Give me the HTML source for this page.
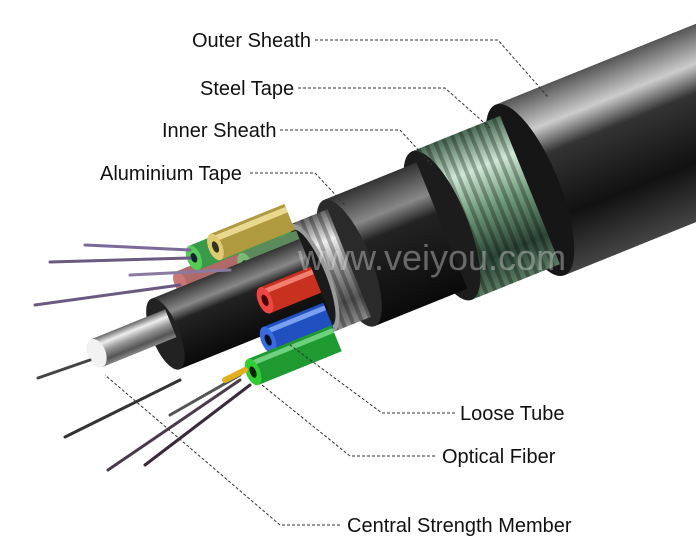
<!DOCTYPE html>
<html><head><meta charset="utf-8"><style>
html,body{margin:0;padding:0;background:#fff;}
svg{display:block;}
text{font-family:"Liberation Sans",sans-serif;font-size:20px;fill:#111;}
</style></head><body>
<svg width="696" height="559" viewBox="0 0 696 559" xmlns="http://www.w3.org/2000/svg">
<defs>
<linearGradient id="gOut" x1="0" y1="0" x2="0" y2="1">
<stop offset="0" stop-color="#555"/><stop offset="0.2" stop-color="#ccc"/><stop offset="0.35" stop-color="#333"/><stop offset="0.7" stop-color="#111"/><stop offset="1" stop-color="#444"/></linearGradient>
<linearGradient id="gGreen" x1="0" y1="0" x2="0" y2="1">
<stop offset="0" stop-color="#4a6a55"/><stop offset="0.25" stop-color="#cfe8d5"/><stop offset="0.5" stop-color="#6f9a7a"/><stop offset="0.8" stop-color="#2c4434"/><stop offset="1" stop-color="#5a7a62"/></linearGradient>
<linearGradient id="gBlack" x1="0" y1="0" x2="0" y2="1">
<stop offset="0" stop-color="#333"/><stop offset="0.25" stop-color="#888"/><stop offset="0.4" stop-color="#222"/><stop offset="1" stop-color="#0a0a0a"/></linearGradient>
<linearGradient id="gAl" x1="0" y1="0" x2="0" y2="1">
<stop offset="0" stop-color="#666"/><stop offset="0.25" stop-color="#eee"/><stop offset="0.5" stop-color="#999"/><stop offset="0.8" stop-color="#555"/><stop offset="1" stop-color="#888"/></linearGradient>
<pattern id="rings" width="9" height="10" patternUnits="userSpaceOnUse"><rect width="4" height="10" fill="rgba(0,0,0,0.28)"/></pattern>
</defs>

<g transform="translate(530,190) rotate(-22)">
  <rect x="0" y="-92" width="280" height="184" fill="url(#gOut)"/>
  <ellipse cx="0" cy="0" rx="30" ry="92" fill="#161616"/>
  <rect x="-95" y="-80" width="95" height="160" fill="url(#gGreen)"/>
  <rect x="-95" y="-80" width="95" height="160" fill="url(#rings)"/>
  <ellipse cx="-95" cy="0" rx="26" ry="80" fill="#1c1c1c"/>
  <rect x="-195" y="-68" width="100" height="136" fill="url(#gBlack)"/>
  <ellipse cx="-195" cy="0" rx="22" ry="68" fill="#2a2a2a"/>
  <rect x="-235" y="-58" width="40" height="116" fill="url(#gAl)"/>
  <rect x="-235" y="-58" width="40" height="116" fill="url(#rings)"/>
  <ellipse cx="-235" cy="0" rx="18" ry="58" fill="#9a9a9a"/>
  <ellipse cx="-235" cy="0" rx="14" ry="52" fill="#1a1a1a"/>

  <rect x="-359" y="-57" width="110" height="24" fill="#b06a6a"/><ellipse cx="-359" cy="-45" rx="6" ry="12" fill="#c77"/>
  <rect x="-337" y="-76" width="100" height="26" fill="#3a9a4a"/><ellipse cx="-337" cy="-63" rx="7" ry="13" fill="#5c5"/><ellipse cx="-337" cy="-63" rx="3" ry="5" fill="#123"/>
  <rect x="-313" y="-79" width="80" height="28" fill="#b09a40"/><rect x="-313" y="-76" width="80" height="6" fill="#e8d890"/><ellipse cx="-313" cy="-65" rx="7" ry="14" fill="#e0cc70"/><ellipse cx="-313" cy="-65" rx="3" ry="6" fill="#332"/>
  <rect x="-292" y="-50" width="60" height="26" fill="#5d8a5d"/><ellipse cx="-292" cy="-37" rx="7" ry="13" fill="#7b7"/><ellipse cx="-292" cy="-37" rx="3" ry="5" fill="#222"/>
  <rect x="-392" y="-41" width="160" height="76" fill="url(#gBlack)"/>
  <ellipse cx="-392" cy="-3" rx="14" ry="38" fill="#222"/>
  <rect x="-463" y="-26" width="80" height="30" fill="url(#gAl)"/>
  <ellipse cx="-463" cy="-11" rx="9" ry="15" fill="#f2f2f2"/>
  <rect x="-287" y="-11" width="55" height="28" fill="#c83020"/><rect x="-287" y="-8" width="55" height="5" fill="#f08070"/><ellipse cx="-287" cy="3" rx="7" ry="14" fill="#e44"/><ellipse cx="-287" cy="3" rx="3" ry="6" fill="#400"/>
  <rect x="-299" y="27" width="65" height="28" fill="#2050c0"/><rect x="-299" y="30" width="65" height="5" fill="#7aa0f0"/><ellipse cx="-299" cy="41" rx="7" ry="14" fill="#3a6ae0"/><ellipse cx="-299" cy="41" rx="3" ry="6" fill="#012"/>
  <rect x="-325" y="51" width="90" height="28" fill="#1e9a30"/><rect x="-325" y="54" width="90" height="5" fill="#70d080"/><ellipse cx="-325" cy="65" rx="7" ry="14" fill="#3c3"/><ellipse cx="-325" cy="65" rx="3" ry="6" fill="#020"/>
</g>

<g stroke-linecap="round" fill="none">
<path d="M85,245 L190,250" stroke="#7a6a9a" stroke-width="3"/>
<path d="M50,262 L190,258" stroke="#6a5a80" stroke-width="3"/>
<path d="M130,275 L230,270" stroke="#8a7aa0" stroke-width="3"/>
<path d="M35,305 L180,285" stroke="#6a5a80" stroke-width="3"/>
<path d="M38,378 L90,360" stroke="#444" stroke-width="3"/>
<path d="M65,437 L180,380" stroke="#333" stroke-width="3"/>
<path d="M108,470 L240,380" stroke="#4a3a4a" stroke-width="3"/>
<path d="M145,465 L250,385" stroke="#3a2a3a" stroke-width="3"/>
<path d="M170,415 L240,375" stroke="#555" stroke-width="3"/>
<path d="M225,380 L245,370" stroke="#e0b020" stroke-width="6"/>
</g>
<text x="298" y="270" style="font-size:36px;fill:rgba(225,225,225,0.4)">www.veiyou.com</text>

<g stroke="#333" stroke-width="1" stroke-dasharray="3,2" fill="none">
<path d="M315,40 H498 L548,97"/>
<path d="M298,88 H445 L490,128"/>
<path d="M280,130 H400 L432,165"/>
<path d="M250,173 H315 L345,205"/>
<path d="M455,413 H382 L290,345"/>
<path d="M435,456 H350 L262,385"/>
<path d="M340,525 H280 L105,375"/>
</g>
<text x="192" y="47">Outer Sheath</text>
<text x="200" y="95">Steel Tape</text>
<text x="162" y="137">Inner Sheath</text>
<text x="100" y="180">Aluminium Tape</text>
<text x="460" y="420">Loose Tube</text>
<text x="442" y="463">Optical Fiber</text>
<text x="347" y="532">Central Strength Member</text>
</svg>
</body></html>
